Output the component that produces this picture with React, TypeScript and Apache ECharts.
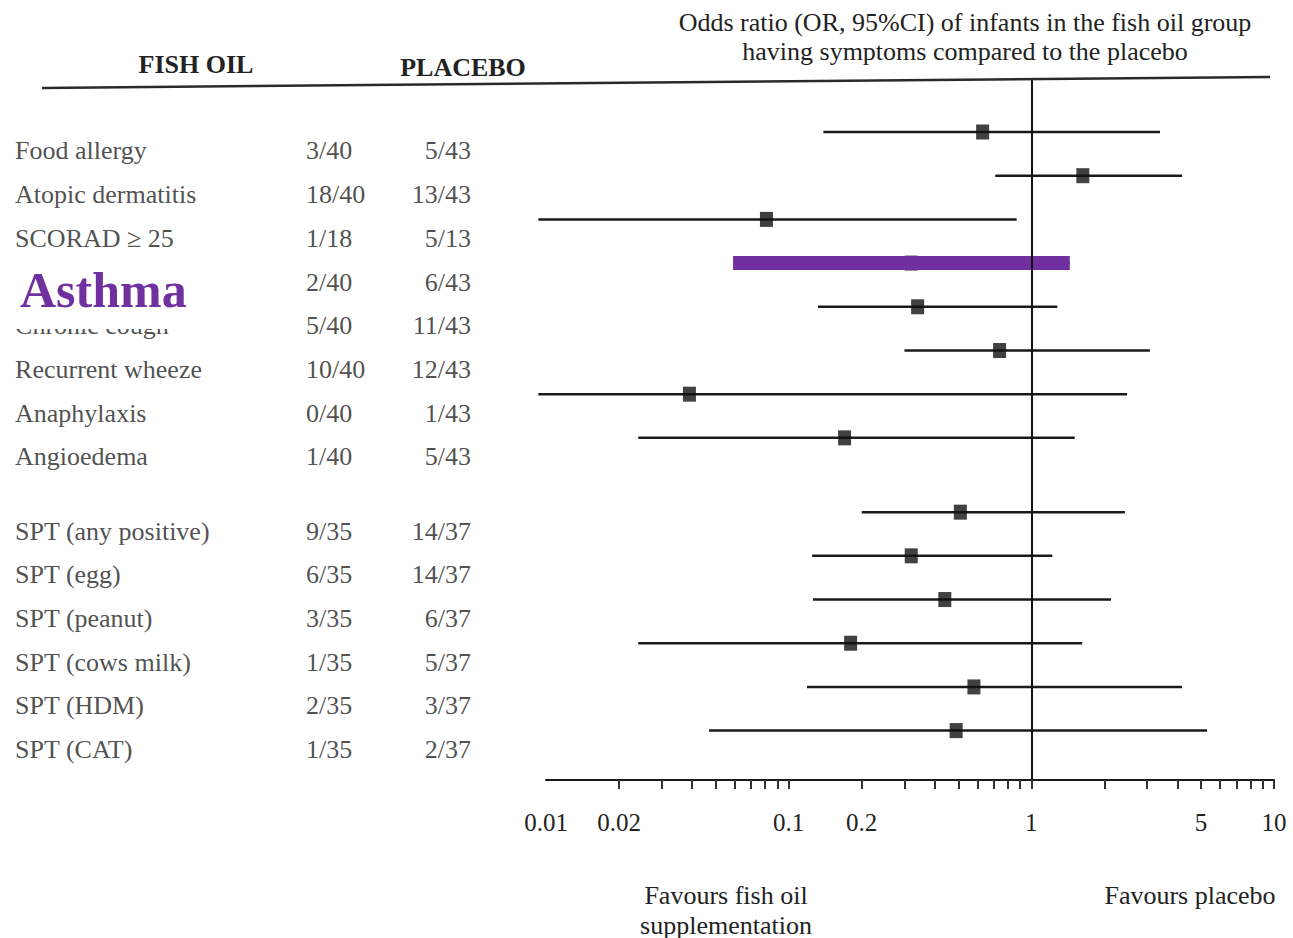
import React, { useEffect, useRef } from "react";
import * as echarts from "echarts";

const outcomes = [
  "Food allergy",
  "Atopic dermatitis",
  "SCORAD \u2265 25",
  "Asthma",
  "Chronic cough",
  "Recurrent wheeze",
  "Anaphylaxis",
  "Angioedema",
  "SPT (any positive)",
  "SPT (egg)",
  "SPT (peanut)",
  "SPT (cows milk)",
  "SPT (HDM)",
  "SPT (CAT)",
];
const fishOil = ["3/40", "18/40", "1/18", "2/40", "5/40", "10/40", "0/40", "1/40", "9/35", "6/35", "3/35", "1/35", "2/35", "1/35"];
const placebo = ["5/43", "13/43", "5/13", "6/43", "11/43", "12/43", "1/43", "5/43", "14/37", "14/37", "6/37", "5/37", "3/37", "2/37"];
const oddsRatio = [0.63, 1.63, 0.081, 0.32, 0.34, 0.74, 0.039, 0.17, 0.51, 0.32, 0.44, 0.18, 0.58, 0.49];
const ciLow = [0.139, 0.71, 0.0093, 0.059, 0.132, 0.3, 0.0093, 0.024, 0.2, 0.125, 0.126, 0.024, 0.119, 0.047];
const ciHigh = [3.39, 4.18, 0.87, 1.44, 1.28, 3.08, 2.48, 1.51, 2.43, 1.22, 2.13, 1.62, 4.18, 5.3];
const highlighted = "Asthma";
const tickLabelValues = [0.01, 0.02, 0.1, 0.2, 1, 5, 10];
const minorTickValues = [
  0.02, 0.03, 0.04, 0.05, 0.06, 0.07, 0.08, 0.09,
  0.1, 0.2, 0.3, 0.4, 0.5, 0.6, 0.7, 0.8, 0.9,
  1, 2, 3, 4, 5, 6, 7, 8, 9, 10,
];

const SERIF = "'Liberation Serif', 'Times New Roman', serif";
const INK = "#222";

// row layout: a gap separates the clinical outcomes from the skin-prick tests
const rowPos = (i: number) => i + (i >= 8 ? 0.7 : 0);
const Y_MIN = -1.19;
const Y_MAX = 14.83;

export default function App() {
  const ref = useRef<HTMLDivElement>(null);

  useEffect(() => {
    if (!ref.current) return;
    const chart = echarts.init(ref.current, null, { renderer: "svg" });

    const nearestLabel = (v: number) => {
      let best = tickLabelValues[0];
      for (const t of tickLabelValues) {
        if (Math.abs(Math.log10(t) - v) < Math.abs(Math.log10(best) - v)) best = t;
      }
      return String(best);
    };

    const ciData = outcomes.map((_, i) => [Math.log10(ciLow[i]), Math.log10(ciHigh[i]), rowPos(i)]);
    const hiIdx = outcomes.indexOf(highlighted);
    const hiData = [[Math.log10(ciLow[hiIdx]), Math.log10(ciHigh[hiIdx]), rowPos(hiIdx)]];

    const renderCI = (color: string, width: number) => (params: any, api: any) => {
      const a = api.coord([api.value(0), api.value(2)]);
      const b = api.coord([api.value(1), api.value(2)]);
      return {
        type: "line",
        shape: { x1: a[0], y1: a[1], x2: b[0], y2: b[1] },
        style: { stroke: color, lineWidth: width },
      };
    };

    const tableLabel = (align: "left" | "right") => ({
      show: true,
      position: align === "left" ? "right" : "left",
      distance: 0,
      formatter: (p: any) => p.value[2],
      fontFamily: SERIF,
      fontSize: 26,
      color: INK,
    });

    const option: any = {
      animation: false,
      backgroundColor: "#fff",
      grid: [
        { left: 546, right: 19, top: 80, height: 700 },
        { left: 0, top: 99, width: 548, height: 700 },
      ],
      xAxis: [
        {
          type: "value",
          gridIndex: 0,
          position: "bottom",
          min: -2,
          max: 1,
          axisLine: { show: true, onZero: false, lineStyle: { color: "#1a1a1a", width: 2 } },
          axisTick: {
            show: true,
            length: 9,
            customValues: minorTickValues.map((v) => Math.log10(v)),
            lineStyle: { color: "#333", width: 2 },
          },
          axisLabel: {
            show: true,
            customValues: tickLabelValues.map((v) => Math.log10(v)),
            formatter: (v: number) => nearestLabel(v),
            margin: 30,
            fontFamily: SERIF,
            fontSize: 25,
            color: INK,
          },
          splitLine: { show: false },
        },
        { type: "value", gridIndex: 1, min: 0, max: 548, show: false },
      ],
      yAxis: [
        { type: "value", gridIndex: 0, inverse: true, min: Y_MIN, max: Y_MAX, show: false },
        { type: "value", gridIndex: 1, inverse: true, min: Y_MIN, max: Y_MAX, show: false },
      ],
      series: [
        {
          name: "95% CI",
          type: "custom",
          xAxisIndex: 0,
          yAxisIndex: 0,
          data: ciData,
          encode: { x: [0, 1], y: 2 },
          renderItem: renderCI("#1a1a1a", 2.5),
          clip: false,
          silent: true,
          z: 2,
        },
        {
          name: "OR",
          type: "scatter",
          xAxisIndex: 0,
          yAxisIndex: 0,
          symbol: "rect",
          symbolSize: [13, 15],
          itemStyle: { color: "#111" },
          data: outcomes.map((_, i) => [Math.log10(oddsRatio[i]), rowPos(i)]),
          silent: true,
          z: 3,
          markLine: {
            silent: true,
            symbol: "none",
            label: { show: false },
            lineStyle: { color: "#111", width: 2, type: "solid" },
            data: [{ xAxis: 0 }],
          },
        },
        {
          name: "Highlight",
          type: "custom",
          xAxisIndex: 0,
          yAxisIndex: 0,
          data: hiData,
          encode: { x: [0, 1], y: 2 },
          renderItem: renderCI("#7030A0", 14),
          clip: false,
          silent: true,
          z: 4,
        },
        {
          name: "Outcome",
          type: "scatter",
          xAxisIndex: 1,
          yAxisIndex: 1,
          symbolSize: 0.1,
          itemStyle: { color: "transparent" },
          // the highlighted row's own label is covered by the annotation
          data: outcomes.map((n, i) => [15, rowPos(i), n === highlighted ? "" : n]),
          label: tableLabel("left"),
          silent: true,
        },
        {
          name: "Fish oil",
          type: "scatter",
          xAxisIndex: 1,
          yAxisIndex: 1,
          symbolSize: 0.1,
          itemStyle: { color: "transparent" },
          data: fishOil.map((n, i) => [306, rowPos(i), n]),
          label: tableLabel("left"),
          silent: true,
        },
        {
          name: "Placebo",
          type: "scatter",
          xAxisIndex: 1,
          yAxisIndex: 1,
          symbolSize: 0.1,
          itemStyle: { color: "transparent" },
          data: placebo.map((n, i) => [471, rowPos(i), n]),
          label: tableLabel("right"),
          silent: true,
        },
      ],
      graphic: [
        {
          type: "text",
          x: 965,
          y: 8,
          z: 50,
          style: {
            text: "Odds ratio (OR, 95%CI) of infants in the fish oil group\nhaving symptoms compared to the placebo",
            fontFamily: SERIF,
            fontSize: 26,
            lineHeight: 29,
            fill: INK,
            align: "center",
            verticalAlign: "top",
          },
        },
        {
          type: "text",
          x: 196,
          y: 64,
          z: 50,
          style: { text: "FISH OIL", fontFamily: SERIF, fontWeight: "bold", fontSize: 26, fill: INK, align: "center", verticalAlign: "middle" },
        },
        {
          type: "text",
          x: 463,
          y: 67,
          z: 50,
          style: { text: "PLACEBO", fontFamily: SERIF, fontWeight: "bold", fontSize: 26, fill: INK, align: "center", verticalAlign: "middle" },
        },
        {
          type: "line",
          z: 50,
          shape: { x1: 42, y1: 88, x2: 1270, y2: 77 },
          style: { stroke: "#2a2a2a", lineWidth: 2.5 },
        },
        {
          type: "text",
          x: 726,
          y: 880,
          z: 50,
          style: {
            text: "Favours fish oil\nsupplementation",
            fontFamily: SERIF,
            fontSize: 26,
            lineHeight: 30,
            fill: INK,
            align: "center",
            verticalAlign: "top",
          },
        },
        {
          type: "text",
          x: 1190,
          y: 880,
          z: 50,
          style: { text: "Favours placebo", fontFamily: SERIF, fontSize: 26, lineHeight: 30, fill: INK, align: "center", verticalAlign: "top" },
        },
        {
          type: "text",
          x: 12,
          y: 258,
          z: 100,
          style: {
            text: "Asthma",
            fontFamily: SERIF,
            fontWeight: "bold",
            fontSize: 50,
            lineHeight: 52,
            fill: "#7030A0",
            backgroundColor: "#fff",
            padding: [6, 14, 13, 8],
            align: "left",
            verticalAlign: "top",
          },
        },
      ],
    };

    chart.setOption(option);
    return () => chart.dispose();
  }, []);

  return (
    <div
      ref={ref}
      style={{ position: "absolute", left: 0, top: 0, width: 1293, height: 938, background: "#fff" }}
    />
  );
}
